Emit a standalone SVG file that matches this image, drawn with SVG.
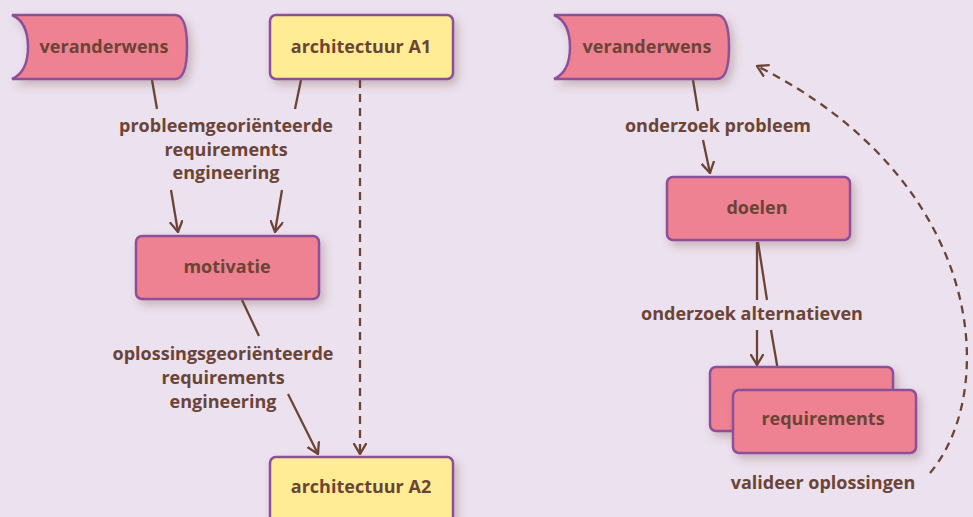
<svg xmlns="http://www.w3.org/2000/svg" width="973" height="517" viewBox="0 0 973 517">
<defs>
<filter id="sh" x="-20%" y="-30%" width="150%" height="170%">
<feDropShadow dx="4" dy="5" stdDeviation="4" flood-color="#6b4436" flood-opacity="0.28"/>
</filter>
<marker id="ah" viewBox="0 0 12 14" refX="11" refY="7" markerWidth="12" markerHeight="14" markerUnits="userSpaceOnUse" orient="auto">
<path d="M0,0.5 L11,7 L0,13.5" fill="none" stroke="#6b4436" stroke-width="2.3"/>
</marker>
</defs>
<style>
.pink{fill:#ef8292;stroke:#8e4f9a;stroke-width:2.5;filter:url(#sh)}
.yel{fill:#ffec95;stroke:#8e4f9a;stroke-width:2.5;filter:url(#sh)}
text{font-family:"Open Sans","Lato",sans-serif;font-weight:bold;font-size:18px;fill:#6b4436;text-anchor:middle}
.ln{fill:none;stroke:#6b4436;stroke-width:2.3}
.dash{stroke-dasharray:8 6}
</style>
<rect width="973" height="517" fill="#ece1ee"/>
<g id="connectors">
<path class="ln" d="M152,80 L157,109"/>
<path class="ln" d="M171,190 L178,232" marker-end="url(#ah)"/>
<path class="ln" d="M301,80 L295,109"/>
<path class="ln" d="M282,190 L275,232" marker-end="url(#ah)"/>
<path class="ln" d="M242,300 L259,336"/>
<path class="ln" d="M288,394 L318,454" marker-end="url(#ah)"/>
<path class="ln dash" d="M360,80 L360,454" marker-end="url(#ah)"/>
<path class="ln" d="M693,80 L698,111"/>
<path class="ln" d="M703,140 L710,173" marker-end="url(#ah)"/>
<path class="ln" d="M757,242 L757,300"/>
<path class="ln" d="M758,242 L767,300"/>
<path class="ln" d="M757,330 L757,365" marker-end="url(#ah)"/>
<path class="ln" d="M771,330 L781,388" marker-end="url(#ah)"/>
<path class="ln dash" d="M930,473 C1000,390 985,180 757,66" marker-end="url(#ah)"/>
<text x="226" y="132">probleemgeoriënteerde</text>
<text x="226" y="156">requirements</text>
<text x="226" y="179">engineering</text>
<text x="223" y="360">oplossingsgeoriënteerde</text>
<text x="223" y="384">requirements</text>
<text x="223" y="408">engineering</text>
<text x="718" y="132">onderzoek probleem</text>
<text x="752" y="320">onderzoek alternatieven</text>
<text x="823" y="489">valideer oplossingen</text>
</g>
<g id="veranderwens1">
<path class="pink" d="M12,15 L175,15 Q187,15 187,47 Q187,79 175,79 L12,79 Q28,72 28,47 Q28,22 12,15 Z"/>
<text x="104" y="53">veranderwens</text>
</g>
<g id="architectuurA1">
<rect class="yel" x="270" y="15" width="183" height="64" rx="6"/>
<text x="361" y="53">architectuur A1</text>
</g>
<g id="motivatie">
<rect class="pink" x="136" y="236" width="183" height="63" rx="6"/>
<text x="227" y="273">motivatie</text>
</g>
<g id="architectuurA2">
<rect class="yel" x="270" y="457" width="183" height="66" rx="6"/>
<text x="361" y="493">architectuur A2</text>
</g>
<g id="veranderwens2">
<path class="pink" d="M554,15 L717,15 Q729,15 729,47 Q729,79 717,79 L554,79 Q570,72 570,47 Q570,22 554,15 Z"/>
<text x="647" y="53">veranderwens</text>
</g>
<g id="doelen">
<rect class="pink" x="667" y="177" width="183" height="63" rx="6"/>
<text x="757" y="214">doelen</text>
</g>
<g id="requirements">
<rect class="pink" x="710" y="367" width="183" height="64" rx="6"/>
<rect class="pink" x="733" y="390" width="183" height="63" rx="6"/>
<text x="823" y="425">requirements</text>
</g>
</svg>
